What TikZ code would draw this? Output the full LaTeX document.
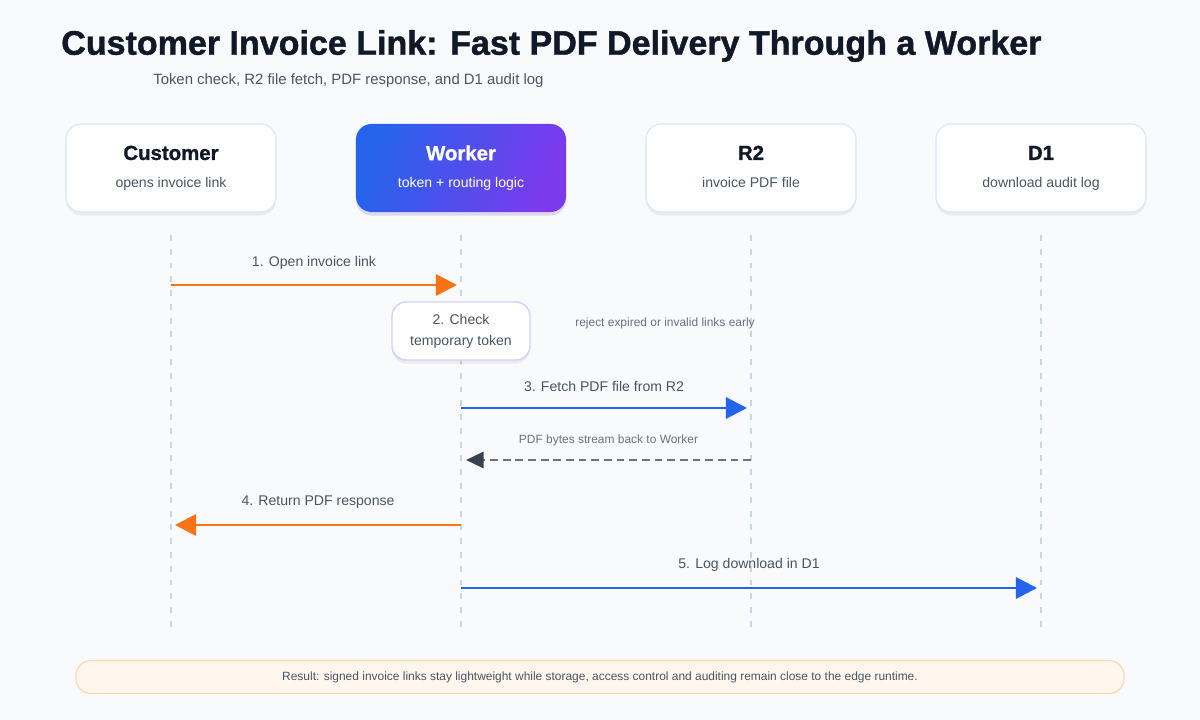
\documentclass[tikz,border=0pt]{standalone}
\usepackage{fontspec}
\setmainfont{Liberation Sans}
\newfontface\heavyfont{Liberation Sans Bold}[FakeBold=1.2]
\usetikzlibrary{arrows.meta,positioning,shadows}
\definecolor{pagebg}{HTML}{F8FAFC}
\definecolor{ink}{HTML}{111827}
\definecolor{muted}{HTML}{4B5563}
\definecolor{soft}{HTML}{6B7280}
\definecolor{edge}{HTML}{DCE6F4}
\definecolor{lifegray}{HTML}{CBD5E1}
\definecolor{flowblue}{HTML}{2563EB}
\definecolor{flowviolet}{HTML}{7C3AED}
\definecolor{floworange}{HTML}{F97316}
\definecolor{backgray}{HTML}{374151}
\definecolor{notefill}{HTML}{FFF7ED}
\definecolor{noteedge}{HTML}{FED7AA}
\newcommand{\actorname}[2]{{\fontsize{14.5}{16}\heavyfont\color{#1}#2\vphantom{Cg}}}
\newcommand{\actornote}[2]{{\fontsize{10}{12}\selectfont\color{#1}#2\vphantom{Cg}}}

\begin{document}
\begin{tikzpicture}[x=0.025cm,y=-0.025cm,
  every node/.style={inner sep=0pt},
  actor/.style={draw=edge,line width=0.8pt,fill=white,rounded corners=11pt,minimum width=5.25cm,minimum height=2.2cm,align=center,
    drop shadow={shadow xshift=0pt,shadow yshift=-2.5pt,opacity=0.06,fill=black}},
  lifeline/.style={lifegray,line width=1.4pt,dash pattern=on 4.2pt off 5.6pt},
  msg/.style={line width=2.1pt,-{Triangle[length=15pt,width=15pt]}},
  msglabel/.style={font=\fontsize{10}{12}\selectfont,text=muted},
  smallnote/.style={font=\fontsize{8.5}{10}\selectfont,text=soft}]
  \fill[pagebg] (0,0) rectangle (1200,720);
  \useasboundingbox (0,0) rectangle (1200,720);

  % heading
  \node[anchor=west,text=ink,font=\fontsize{24.2}{28}\heavyfont] (title) at (61,46) {Customer Invoice Link: Fast PDF Delivery Through a Worker};
  \node[anchor=west,text=muted,font=\fontsize{10.6}{12}\selectfont] (subtitle) at (153,81) {Token check, R2 file fetch, PDF response, and D1 audit log};

  % participants
  \node[actor] (cust) at (171,168) {\actorname{ink}{Customer}\\[7.5pt]\actornote{muted}{opens invoice link}};
  \node[actor,draw=none,left color=flowblue,right color=flowviolet,shading angle=70,
    drop shadow={shadow xshift=0pt,shadow yshift=-2.5pt,opacity=0.10,fill=flowviolet}] (work) at (461,168)
    {\actorname{white}{Worker}\\[7.5pt]\actornote{white}{token + routing logic}};
  \node[actor] (rtwo) at (751,168) {\actorname{ink}{R2}\\[7.5pt]\actornote{muted}{invoice PDF file}};
  \node[actor] (done) at (1041,168) {\actorname{ink}{D1}\\[7.5pt]\actornote{muted}{download audit log}};

  % lifelines
  \foreach \who/\x in {cust/171,work/461,rtwo/751,done/1041}{
    \coordinate (\who-top) at (\x,235);
    \coordinate (\who-end) at (\x,632);
    \draw[lifeline] (\who-top) -- (\who-end);
  }

  % messages
  \coordinate (m1a) at (171,285);  \coordinate (m1b) at (457,285);
  \coordinate (m3a) at (461,408);  \coordinate (m3b) at (747,408);
  \coordinate (m3c) at (751,460);  \coordinate (m3d) at (466,460);
  \coordinate (m4a) at (461,525);  \coordinate (m4b) at (175,525);
  \coordinate (m5a) at (461,588);  \coordinate (m5b) at (1037,588);

  \draw[msg,floworange] (m1a) -- (m1b) node[midway,above=10pt,msglabel] (l1) {1. Open invoice link};

  \node[draw=blue!18,line width=1pt,fill=white,rounded corners=10pt,minimum width=3.45cm,minimum height=1.45cm,align=center,
    font=\fontsize{10}{15}\selectfont,text=muted,
    drop shadow={shadow xshift=0pt,shadow yshift=-2.5pt,opacity=0.06,fill=black}] (check) at (461,331) {2. Check\\temporary token};
  \node[smallnote] (reject) at (665,323) {reject expired or invalid links early};

  \draw[msg,flowblue] (m3a) -- (m3b) node[midway,above=10.8pt,msglabel] (l3) {3. Fetch PDF file from R2};
  \draw[soft,line width=2pt,dash pattern=on 5.5pt off 3.5pt,-{Triangle[length=12.5pt,width=11.5pt,color=backgray]}]
    (m3c) -- (m3d) node[midway,above=9pt,smallnote] (lback) {PDF bytes stream back to Worker};
  \draw[msg,floworange] (m4a) -- (m4b) node[midway,above=10.5pt,msglabel] (l4) {4. Return PDF response};
  \draw[msg,flowblue] (m5a) -- (m5b) node[midway,above=10.5pt,msglabel] (l5) {5. Log download in D1};

  % footer
  \node[draw=noteedge,line width=0.8pt,fill=notefill,rounded corners=11pt,minimum width=26.2cm,minimum height=0.825cm,
    font=\fontsize{8.5}{10}\selectfont,text=muted] (result) at (600,677)
    {Result: signed invoice links stay lightweight while storage, access control and auditing remain close to the edge runtime.};
\end{tikzpicture}
\end{document}
